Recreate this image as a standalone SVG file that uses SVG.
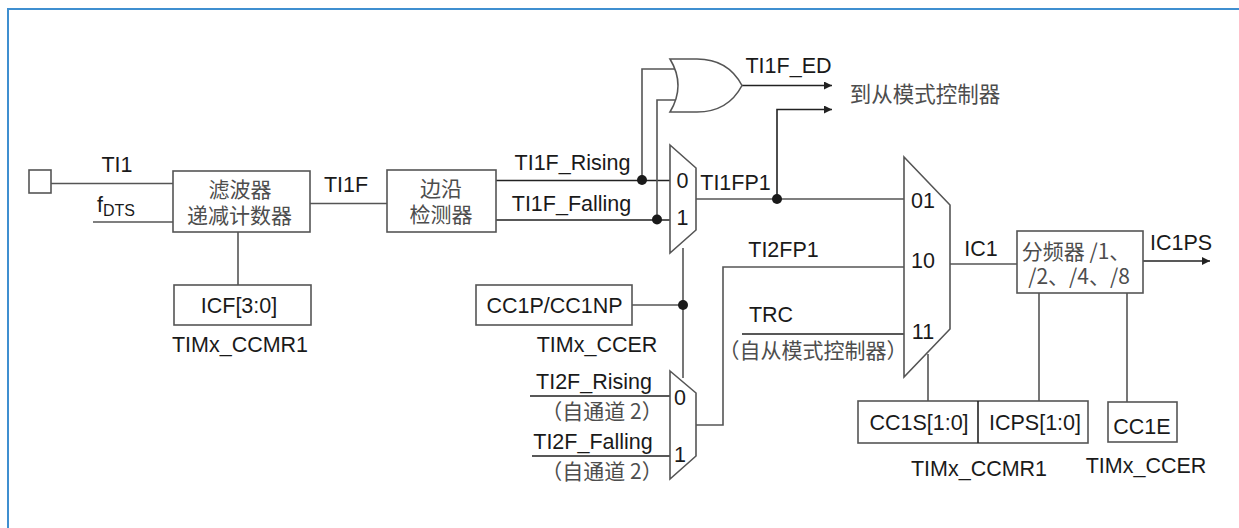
<svg xmlns="http://www.w3.org/2000/svg" width="1239" height="528" viewBox="0 0 1239 528">
<style>
text{font-family:"Liberation Sans",Arial,sans-serif;font-size:21.500px;fill:#1a1a1a;text-anchor:middle}
.cn{font-family:"Noto Sans CJK SC","Liberation Sans",sans-serif;font-size:21px;fill:#4d4d4d;font-weight:400}
.sh{fill:#fff;stroke:#555;stroke-width:1.6}
.w{fill:none;stroke:#555;stroke-width:1.6}
.k{fill:none;stroke:#222;stroke-width:1.6}
.d{fill:#1a1a1a}
</style>
<defs><marker id="a" markerUnits="userSpaceOnUse" markerWidth="9" markerHeight="9" refX="8" refY="4" orient="auto"><path d="M0 0L8 4L0 8z" fill="#222"/></marker></defs>
<rect width="1239" height="528" fill="#fff"/>
<path d="M8 528V9H1239" fill="none" stroke="#3f8fd0" stroke-width="2"/>
<g id="connectors">
<path class="w" d="M51 183.500H173M93 222H173M238 232V285M310 203.500H387"/>
<path class="k" d="M496 180.500H670M496 220H670"/>
<path class="w" d="M642 180.500V69H676M657 219.500V100H676"/>
<path class="k" d="M742 85.500H832" marker-end="url(#a)"/>
<path class="k" d="M777 199V109.500H832" marker-end="url(#a)"/>
<path class="w" d="M696 199H905M683 248V378M632 305H683M696 425H723V267H905"/>
<path class="k" d="M530 396H670M532 456H670M742 334H905"/>
<path class="w" d="M950 264H1017M928 354V401M1039 293V401M1127 293V402"/>
<path class="k" d="M1143 261H1210" marker-end="url(#a)"/>
<circle class="d" cx="642" cy="180" r="5"/><circle class="d" cx="657" cy="219.500" r="5"/><circle class="d" cx="777" cy="199" r="5"/><circle class="d" cx="683" cy="305" r="5"/>
</g>
<g id="ti1-pin"><rect class="sh" x="29" y="170" width="22" height="23"/></g>
<text x="117" y="172">TI1</text>
<text x="97" y="212" style="text-anchor:start">f<tspan font-size="16" dy="4">DTS</tspan></text>
<g id="filter"><rect class="sh" x="173" y="171" width="137" height="61"/><text class="cn" x="240" y="197">滤波器</text><text class="cn" x="239.500" y="223">递减计数器</text></g>
<text x="346" y="192">TI1F</text>
<g id="icf"><rect class="sh" x="174" y="285" width="137" height="40"/><text x="239" y="313">ICF[3:0]</text></g>
<text x="240" y="352">TIMx_CCMR1</text>
<g id="edge"><rect class="sh" x="387" y="170" width="109" height="62"/><text class="cn" x="441" y="196">边沿</text><text class="cn" x="441" y="222">检测器</text></g>
<text x="572.500" y="170">TI1F_Rising</text>
<text x="571.500" y="211">TI1F_Falling</text>
<g id="or-gate"><path class="sh" d="M670 59H697Q728 59 742 85.500Q728 112 697 112H670Q686 85.500 670 59Z"/></g>
<text x="788.500" y="73">TI1F_ED</text>
<text class="cn" style="font-size:21.500px" x="925" y="102">到从模式控制器</text>
<g id="mux-ti1"><path class="sh" d="M670 145L696 168V230L670 253Z"/><text x="682.500" y="188">0</text><text x="682.500" y="225">1</text></g>
<text x="735.500" y="190">TI1FP1</text>
<text x="783.500" y="257">TI2FP1</text>
<g id="cc1p"><rect class="sh" x="476" y="285" width="156" height="40"/><text x="554.500" y="313">CC1P/CC1NP</text></g>
<text x="597" y="352">TIMx_CCER</text>
<text x="594" y="389">TI2F_Rising</text>
<text class="cn" x="602" y="419">（自通道 2）</text>
<text x="593" y="449">TI2F_Falling</text>
<text class="cn" x="602" y="479">（自通道 2）</text>
<g id="mux-ti2"><path class="sh" d="M670 371L696 393V456L670 479Z"/><text x="680" y="405">0</text><text x="680" y="462">1</text></g>
<text x="771" y="322">TRC</text>
<text class="cn" x="813" y="358">（自从模式控制器）</text>
<g id="mux-ic"><path class="sh" d="M904 157L950 205V329L904 377Z"/><text x="923" y="208">01</text><text x="923" y="268">10</text><text x="923" y="339">11</text></g>
<text x="981" y="256">IC1</text>
<g id="prescaler"><rect class="sh" x="1017" y="231" width="126" height="62"/><text class="cn" x="1076" y="259">分频器 /1、</text><text class="cn" x="1079" y="284">/2、/4、/8</text></g>
<text x="1181" y="250">IC1PS</text>
<g id="ccmr"><rect class="sh" x="858" y="401" width="230" height="42"/><path class="k" d="M978 401V443"/><text x="919" y="430">CC1S[1:0]</text><text x="1035" y="430">ICPS[1:0]</text></g>
<g id="cc1e"><rect class="sh" x="1108" y="402" width="69" height="40"/><text x="1142" y="434">CC1E</text></g>
<text x="979" y="476">TIMx_CCMR1</text>
<text x="1146" y="473">TIMx_CCER</text>
</svg>
